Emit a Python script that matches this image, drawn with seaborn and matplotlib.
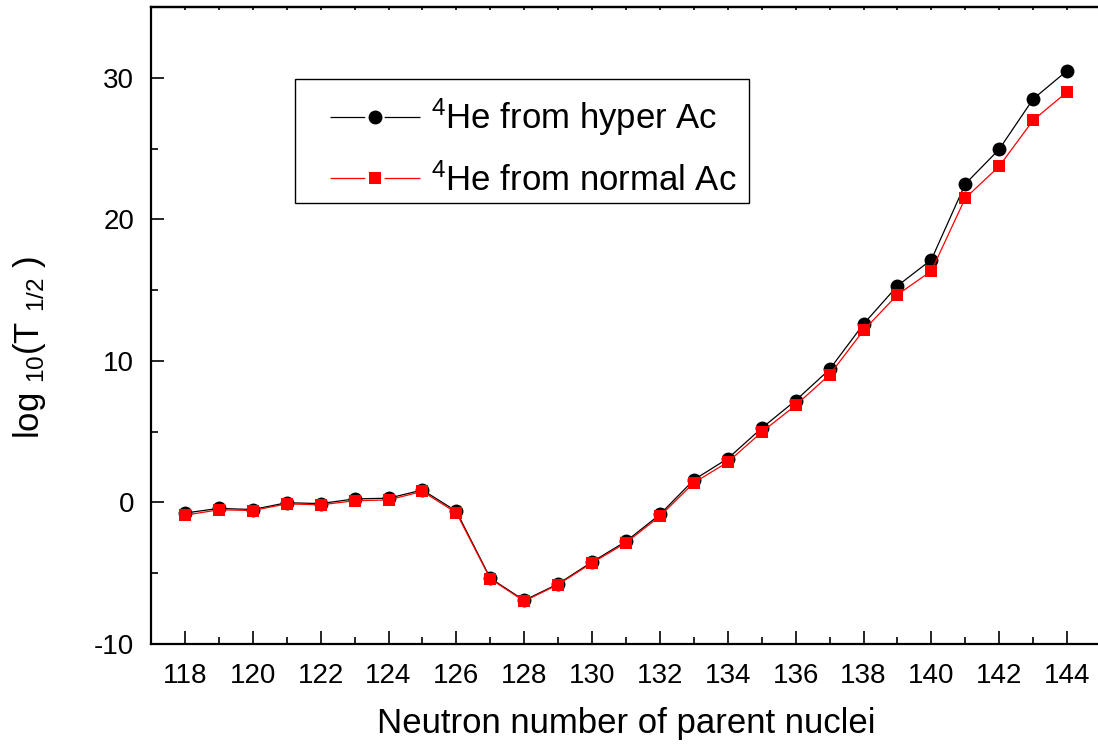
import pandas as pd
import numpy as np
import matplotlib
matplotlib.use("Agg")
import matplotlib.pyplot as plt
import seaborn as sns
from matplotlib.ticker import MultipleLocator
from matplotlib.lines import Line2D
from matplotlib.patches import Rectangle

sns.set_style("ticks")
plt.rcParams['font.family'] = ['Liberation Sans', 'DejaVu Sans']
plt.rcParams['mathtext.fontset'] = 'custom'
plt.rcParams['mathtext.rm'] = 'Liberation Sans'
plt.rcParams['mathtext.it'] = 'Liberation Sans:italic'
plt.rcParams['axes.unicode_minus'] = False
plt.rcParams['lines.scale_dashes'] = False
for k in ['text.color', 'axes.labelcolor', 'xtick.color', 'ytick.color', 'axes.edgecolor']:
    plt.rcParams[k] = 'black'

# neutron number of the parent nuclei
neutrons = list(range(118, 145))
# log10(T1/2)
hyper_ac = [-0.75, -0.42, -0.5, -0.02, -0.08, 0.25, 0.3, 0.88, -0.62,
            -5.35, -6.92, -5.75, -4.2, -2.75, -0.85, 1.6, 3.1, 5.25,
            7.2, 9.4, 12.6, 15.3, 17.15, 22.5, 24.95, 28.5, 30.5]
normal_ac = [-0.9, -0.52, -0.57, -0.1, -0.17, 0.12, 0.18, 0.78, -0.73,
             -5.4, -6.97, -5.8, -4.27, -2.85, -0.97, 1.39, 2.85, 4.97,
             6.86, 9.02, 12.15, 14.68, 16.35, 21.5, 23.75, 27.0, 29.0]
labels = [r'$^4$He from hyper Ac', r'$^4$He from normal Ac']

df = pd.DataFrame({'N': neutrons, 'hyper': hyper_ac, 'normal': normal_ac})

fig = plt.figure(figsize=(10.98, 7.46), dpi=100)
ax = fig.add_axes([151/1098, 102/746, 950/1098, 637/746])

sns.lineplot(data=df, x='N', y='hyper', ax=ax, color='black', marker='o',
             markersize=10, markeredgewidth=0, linewidth=0.9, legend=False)
sns.lineplot(data=df, x='N', y='normal', ax=ax, color='red', marker='s',
             markersize=9, markeredgewidth=0, linewidth=0.9, legend=False)

ax.set_xlim(117, 145)
ax.set_ylim(-10, 35)
ax.xaxis.set_major_locator(MultipleLocator(2))
ax.xaxis.set_minor_locator(MultipleLocator(1))
ax.yaxis.set_major_locator(MultipleLocator(10))
ax.yaxis.set_minor_locator(MultipleLocator(5))
ax.tick_params(which='major', direction='in', length=9.5, width=1.2, labelsize=20)
ax.tick_params(which='minor', direction='in', length=5, width=1.2)
ax.tick_params(axis='x', which='major', pad=14)
ax.tick_params(axis='y', which='major', pad=12)
for sp in ax.spines.values():
    sp.set_linewidth(1.6)
ax.spines['right'].set_visible(False)

# small ticks along the top edge
top = ax.secondary_xaxis('top')
top.xaxis.set_major_locator(MultipleLocator(1))
top.tick_params(direction='in', length=2.5, width=1.2, labeltop=False)
top.spines['top'].set_linewidth(1.6)

ax.set_xlabel('Neutron number of parent nuclei', fontsize=25, labelpad=13)
ax.set_ylabel(r'log $_{10}$(T $_{1/2}$ )', fontsize=25)
ax.yaxis.set_label_coords(-0.108, 0.465)

# legend frame drawn separately, handles with a gap around the marker
ax.add_patch(Rectangle((144/950, 441/637), 454/950, 124/637, transform=ax.transAxes,
                       fill=False, edgecolor='black', linewidth=1.0, zorder=5))
h1 = Line2D([], [], color='black', lw=0.9, marker='o', markersize=10,
            markeredgewidth=0, dashes=(25, 14, 60, 1))
h2 = Line2D([], [], color='red', lw=0.9, marker='s', markersize=9,
            markeredgewidth=0, dashes=(25, 14, 60, 1))
leg = ax.legend([h1, h2], labels, loc='upper left',
                bbox_to_anchor=(179/950, (644 - 97)/637), fontsize=25,
                frameon=False, handlelength=2.6, handletextpad=0.3,
                borderpad=0, labelspacing=0.7, borderaxespad=0)

fig.savefig('out.png', dpi=100)
